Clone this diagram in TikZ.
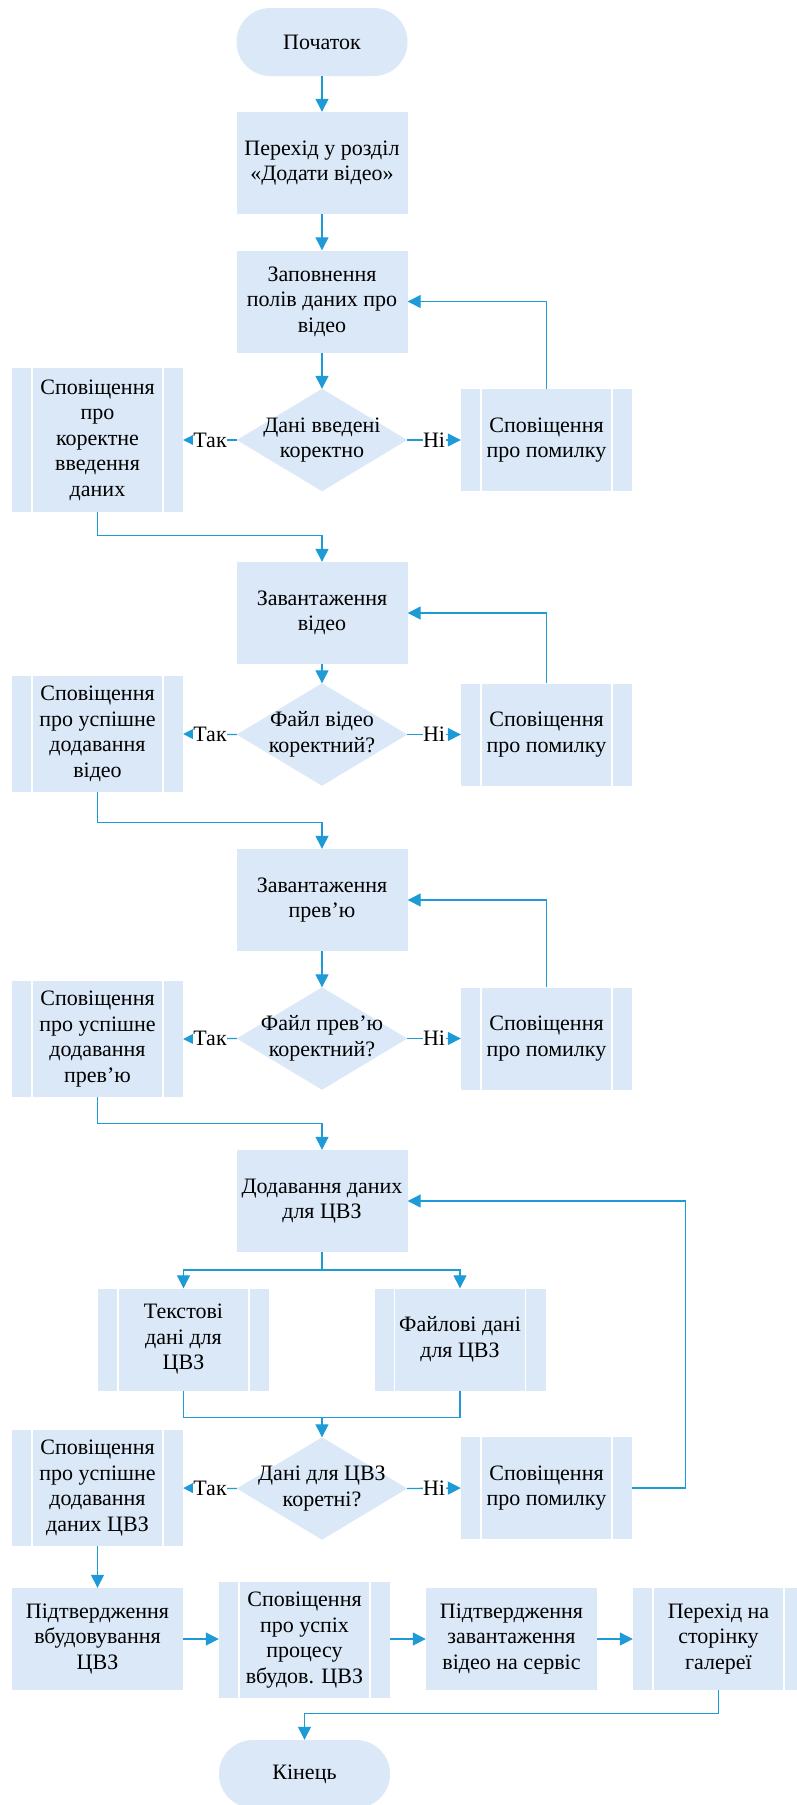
\documentclass[tikz,border=0pt]{standalone}
\usepackage{fontspec}
\setmainfont{LiberationSerif-Regular.ttf}
\newfontfamily\tnr{LiberationSerif-Regular.ttf}
\usetikzlibrary{arrows.meta,backgrounds,calc}
\definecolor{lineblue}{RGB}{30,155,215}
\definecolor{boxfill}{RGB}{218,232,247}
\tikzset{
  base/.style={fill=boxfill, draw=none, align=center, inner sep=0pt,
    font=\tnr\fontsize{22}{25.5}\selectfont, minimum width=171pt, minimum height=102pt},
  proc/.style={base},
  term/.style={base, minimum height=68pt, rounded corners=33.9pt},
  pred/.style={base, path picture={
    \draw[white, line width=1.3pt] ([xshift=20pt]path picture bounding box.north west) -- ([xshift=20pt]path picture bounding box.south west);
    \draw[white, line width=1.3pt] ([xshift=-20pt]path picture bounding box.north east) -- ([xshift=-20pt]path picture bounding box.south east);}},
  dec/.style={align=center, inner sep=0pt, font=\tnr\fontsize{22}{25.5}\selectfont,
    minimum width=170pt, minimum height=102pt},
  conn/.style={draw=lineblue, line width=1.3pt},
  arr/.style={conn, -{Triangle[length=13pt,width=13pt]}, shorten >=0pt},
  lbl/.style={fill=white, inner sep=0.5pt, font=\tnr\fontsize{22}{25.5}\selectfont}
}
\newcommand{\diam}[1]{\fill[boxfill] (#1.west) -- (#1.north) -- (#1.east) -- (#1.south) -- cycle;}
\begin{document}
\begin{tikzpicture}[x=1pt,y=1pt]
\useasboundingbox (0,0) rectangle (797,-1805);
% column 1
\node[term] (start) at (322,-42) {Початок};
\node[proc] (b1) at (322,-163) {Перехід у розділ\\«Додати відео»};
\node[proc] (b2) at (322,-301.5) {Заповнення\\полів даних про\\відео};
\node[dec] (d1) at (322,-440) {Дані введені\\коректно};
\node[pred, minimum height=144pt] (l1) at (97.5,-440) {Сповіщення\\про\\коректне\\введення\\даних};
\node[pred] (r1) at (546.5,-440) {Сповіщення\\про помилку};

\node[proc] (b3) at (322,-613) {Завантаження\\відео};
\node[dec] (d2) at (322,-734.5) {Файл відео\\коректний?};
\node[pred, minimum height=116pt] (l2) at (97.5,-734) {Сповіщення\\про успішне\\додавання\\відео};
\node[pred] (r2) at (546.5,-734.5) {Сповіщення\\про помилку};

\node[proc] (b4) at (322,-900) {Завантаження\\прев’ю};
\node[dec] (d3) at (322,-1038.5) {Файл прев’ю\\коректний?};
\node[pred, minimum height=116pt] (l3) at (97.5,-1039) {Сповіщення\\про успішне\\додавання\\прев’ю};
\node[pred] (r3) at (546.5,-1038.5) {Сповіщення\\про помилку};

\node[proc] (b5) at (322,-1201) {Додавання даних\\для ЦВЗ};
\node[pred] (t1) at (183.5,-1339.5) {Текстові\\дані для\\ЦВЗ};
\node[pred] (t2) at (460,-1339.5) {Файлові дані\\для ЦВЗ};
\node[dec] (d4) at (322,-1488.5) {Дані для ЦВЗ\\коретні?};
\node[pred, minimum height=116pt] (l4) at (97.5,-1488) {Сповіщення\\про успішне\\додавання\\даних ЦВЗ};
\node[pred] (r4) at (546.5,-1488) {Сповіщення\\про помилку};

\node[proc] (c1) at (97.5,-1639) {Підтвердження\\вбудовування\\ЦВЗ};
\node[pred, minimum height=116pt] (c2) at (304.5,-1640) {Сповіщення\\про успіх\\процесу\\вбудов. ЦВЗ};
\node[proc] (c3) at (511.5,-1639) {Підтвердження\\завантаження\\відео на сервіс};
\node[pred] (c4) at (718.5,-1639) {Перехід на\\сторінку\\галереї};
\node[term] (end) at (304.5,-1774) {Кінець};

\begin{scope}[on background layer]
\diam{d1}\diam{d2}\diam{d3}\diam{d4}
\end{scope}

% connectors
\draw[arr] (start) -- (b1);
\draw[arr] (b1) -- (b2);
\draw[arr] (b2) -- (d1.north);
\draw[arr] (d1.west) -- node[lbl] (y1) {Так} (l1.east);
\draw[arr] (d1.east) -- node[lbl] (n1) {Ні} (r1.west);
\draw[arr] (r1.north) |- (b2.east);
\draw[arr] (l1.south) -- ++(0,-23) -| (b3.north);

\draw[arr] (b3) -- (d2.north);
\draw[arr] (d2.west) -- node[lbl] (y2) {Так} (l2.east);
\draw[arr] (d2.east) -- node[lbl] (n2) {Ні} (r2.west);
\draw[arr] (r2.north) |- (b3.east);
\draw[arr] (l2.south) -- ++(0,-30) -| (b4.north);

\draw[arr] (b4) -- (d3.north);
\draw[arr] (d3.west) -- node[lbl] (y3) {Так} (l3.east);
\draw[arr] (d3.east) -- node[lbl] (n3) {Ні} (r3.west);
\draw[arr] (r3.north) |- (b4.east);
\draw[arr] (l3.south) -- ++(0,-26) -| (b5.north);

\coordinate (s) at (322,-1270);
\draw[conn] (b5.south) -- (s);
\draw[arr] (s) -| (t1.north);
\draw[arr] (s) -| (t2.north);
\coordinate (m) at (322,-1417.5);
\draw[conn] (t1.south) |- (m);
\draw[conn] (t2.south) |- (m);
\draw[arr] (m) -- (d4.north);
\draw[arr] (d4.west) -- node[lbl] (y4) {Так} (l4.east);
\draw[arr] (d4.east) -- node[lbl] (n4) {Ні} (r4.west);
\draw[arr] (r4.east) -- ++(53,0) |- (b5.east);
\draw[arr] (l4.south) -- (c1.north);

\draw[arr] (c1.east) -- (c1.east -| c2.west);
\draw[arr] (c1.east -| c2.east) -- (c3.west);
\draw[arr] (c3.east) -- (c4.west);
\draw[arr] (c4.south) -- ++(0,-23) -| (end.north);
\end{tikzpicture}
\end{document}
